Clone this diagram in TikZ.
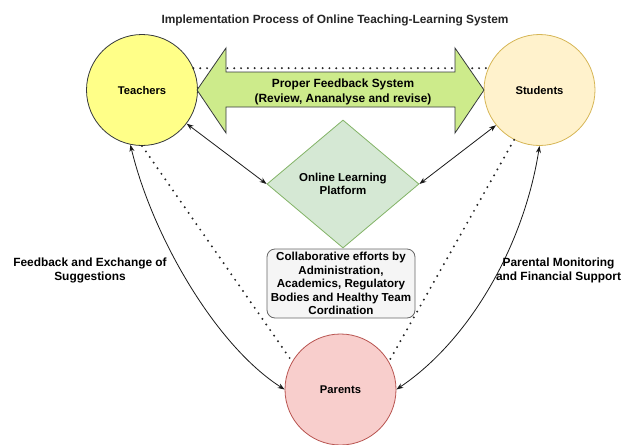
\documentclass[tikz,border=0pt]{standalone}
\usepackage{fontspec}
\setmainfont{Liberation Sans}
\usetikzlibrary{arrows.meta,shapes.geometric}
\definecolor{tfill}{HTML}{FFFF88}
\definecolor{tdraw}{HTML}{36393D}
\definecolor{sfill}{HTML}{FFF2CC}
\definecolor{sdraw}{HTML}{D6B656}
\definecolor{pfill}{HTML}{F8CECC}
\definecolor{pdraw}{HTML}{B85450}
\definecolor{dfill}{HTML}{D5E8D4}
\definecolor{ddraw}{HTML}{82B366}
\definecolor{afill}{HTML}{CDEB8B}
\definecolor{bfill}{HTML}{F5F5F5}
\definecolor{bdraw}{HTML}{666666}
\tikzset{
  circ/.style={circle, minimum size=111pt, inner sep=0pt, line width=0.8pt, font=\fontsize{11.2}{13}\selectfont\bfseries},
  lbl/.style={align=center, inner sep=0pt, font=\fontsize{11.9}{14.5}\selectfont\bfseries},
  twoway/.style={{Stealth[length=7pt,width=5pt]}-{Stealth[length=7pt,width=5pt]}, line width=0.8pt, black!90},
  dotline/.style={line width=2.2pt, dash pattern=on 0pt off 6.8pt, line cap=round, black!85},
}
\begin{document}
\begin{tikzpicture}[x=1pt,y=-1pt]
\useasboundingbox (0,0) rectangle (622,445);
% title
\node[inner sep=0pt, font=\fontsize{11.9}{13}\selectfont\bfseries, text=black!85] (title) at (335,20) {Implementation Process of Online Teaching-Learning System};
% circles
\node[circ, fill=tfill, draw=tdraw] (T) at (142,90) {Teachers};
\node[circ, fill=sfill, draw=sdraw] (S) at (539.5,90) {Students};
\node[circ, fill=pfill, draw=pdraw] (P) at (340.5,389.5) {Parents};
% dotted line behind the big arrow
\draw[dotline] (T.23) -- (S.157);
% big double arrow
\draw[fill=afill, draw=tdraw, line width=0.8pt]
  (197,90) -- (226,48) -- (226,72) -- (455,72) -- (455,48) -- (484,90)
  -- (455,133) -- (455,107) -- (226,107) -- (226,133) -- cycle;
\node[lbl, font=\fontsize{11.9}{15}\selectfont\bfseries] (fb) at (343,91.5) {Proper Feedback System\\(Review, Ananalyse and revise)};
% diamond
\node[diamond, aspect=1.19, minimum width=152pt, minimum height=128pt, inner sep=0pt, fill=dfill, draw=ddraw, line width=0.8pt, align=center, font=\fontsize{11.5}{13.5}\selectfont\bfseries] (D) at (343,184) {Online Learning\\Platform};
% box
\node[rectangle, rounded corners=8pt, minimum width=148pt, minimum height=69pt, fill=bfill, draw=bdraw, line width=0.8pt, inner sep=0pt, align=center, font=\fontsize{11.6}{13.5}\selectfont\bfseries] (B) at (341,283.5) {Collaborative efforts by\\Administration,\\Academics, Regulatory\\Bodies and Healthy Team\\Cordination};
% connectors
\draw[twoway] (T.323) -- (D.west);
\draw[twoway] (S.219) -- (D.east);
\draw[dotline] (T.270) -- (P.150);
\draw[dotline] (S.243) -- (P.30);
\draw[twoway] (T.258) .. controls (152,235) and (215,345) .. (P.180);
\draw[twoway] (S.270) .. controls (524,245) and (470,340) .. (P.0);
% labels
\node[lbl] (L1) at (90,270.5) {Feedback and Exchange of\\Suggestions};
\node[lbl] (L2) at (558.5,270.5) {Parental Monitoring\\and Financial Support};
\end{tikzpicture}
\end{document}
